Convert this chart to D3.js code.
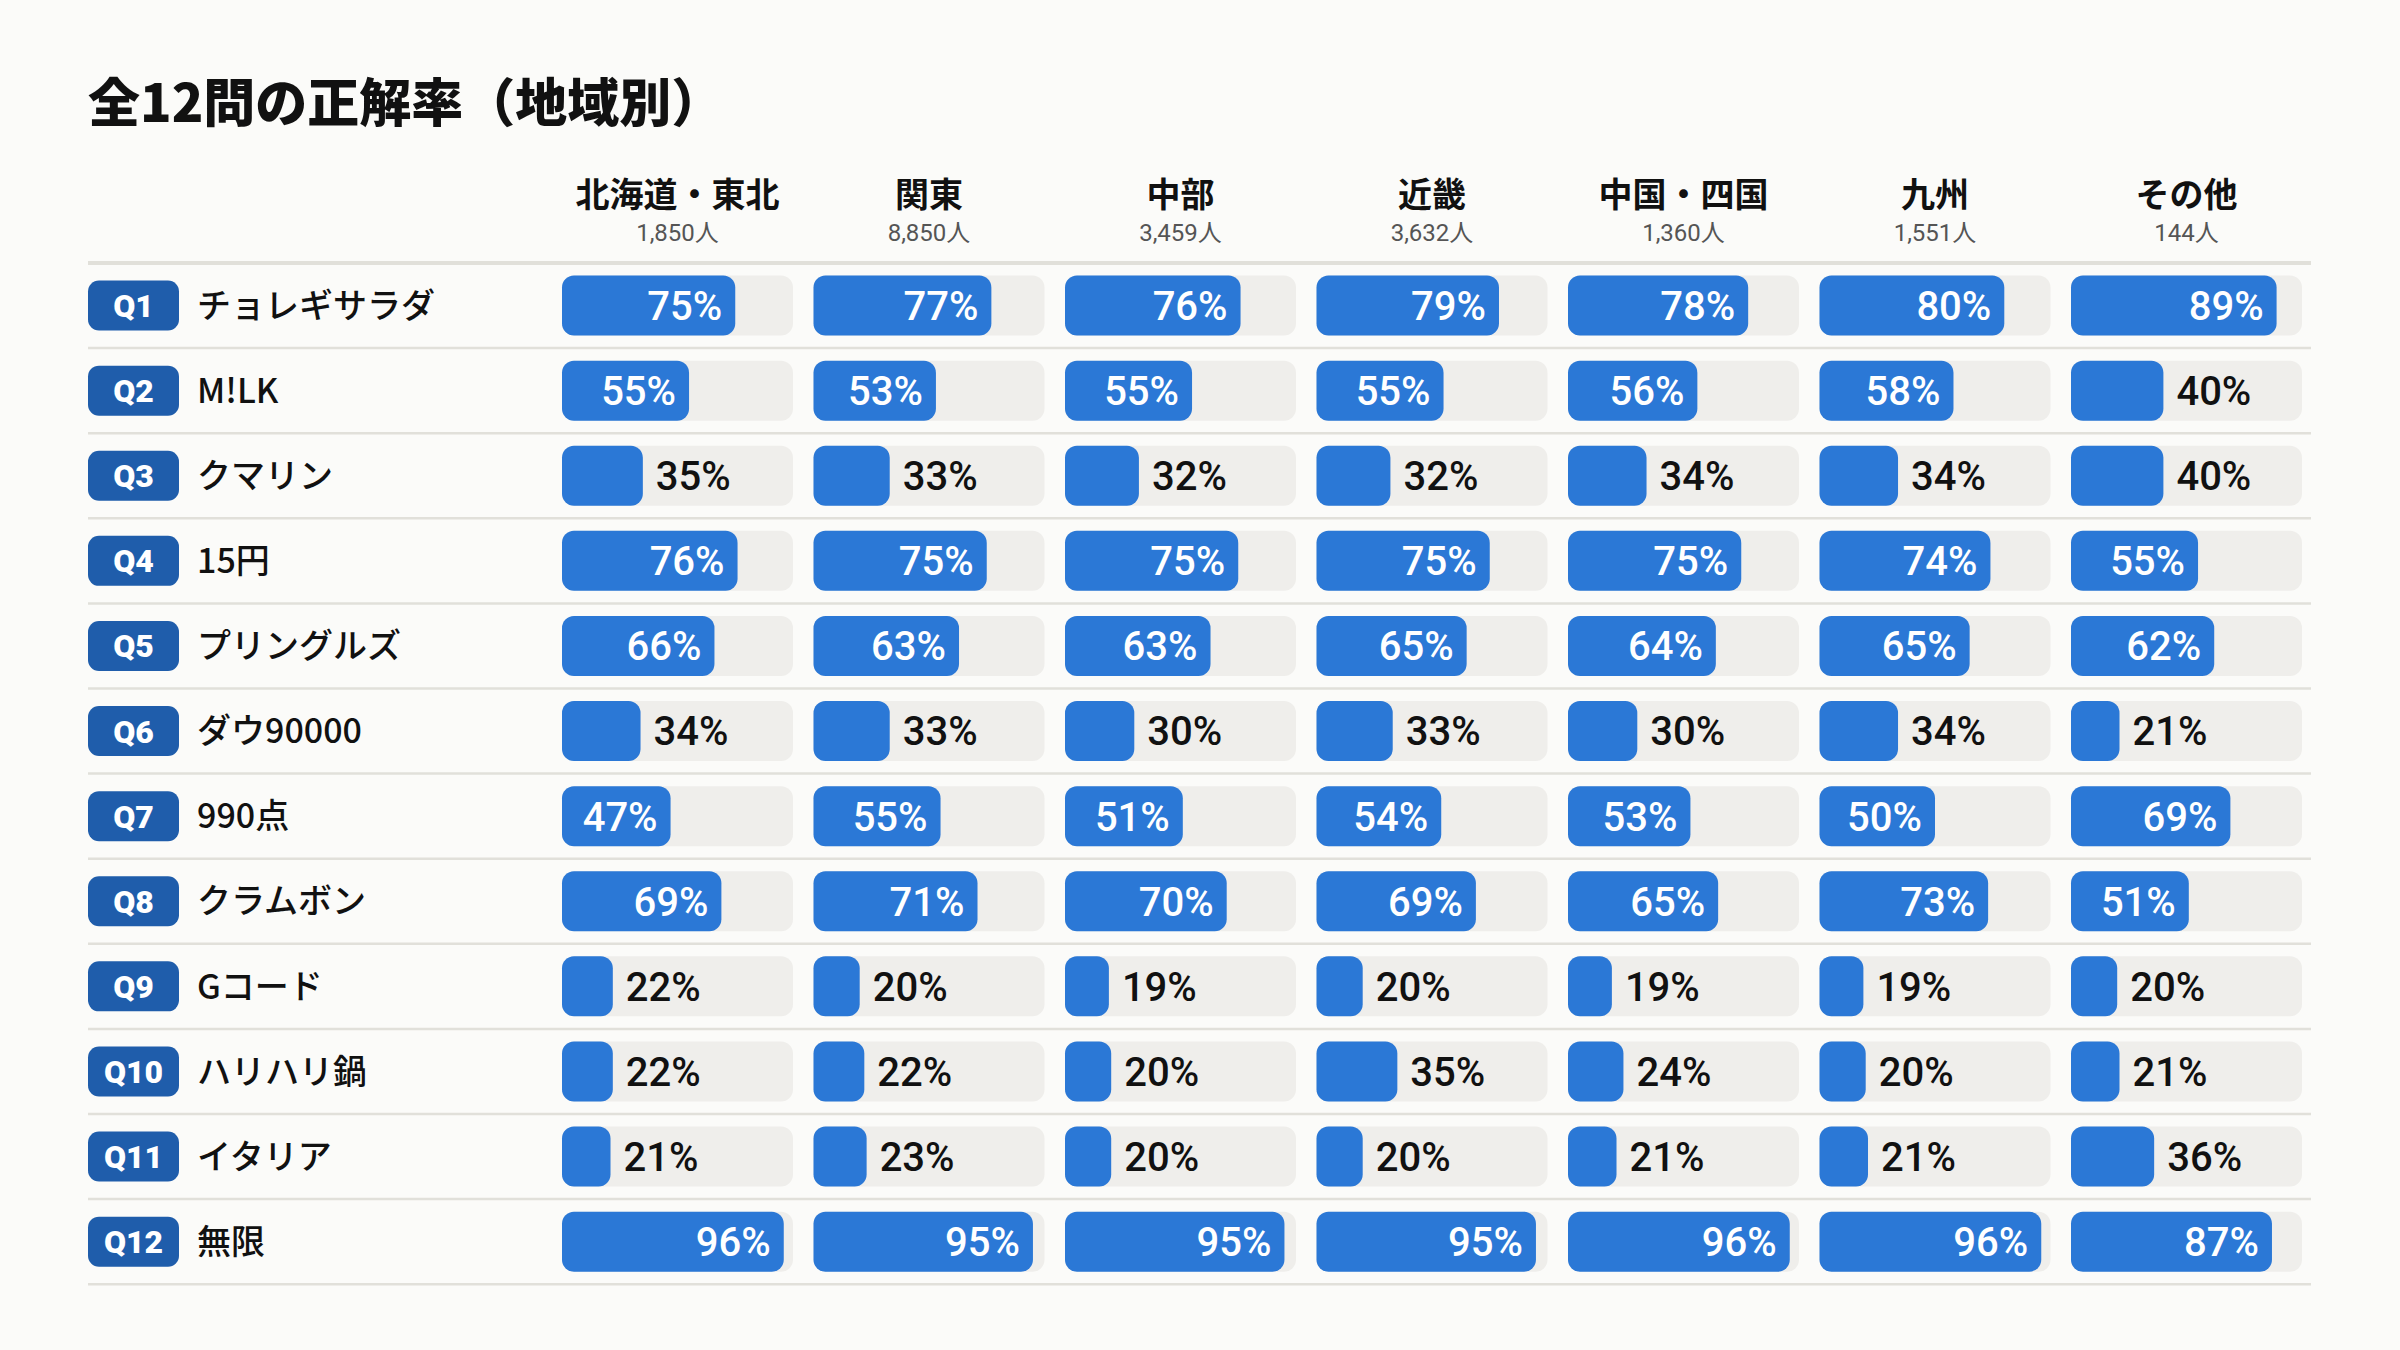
<!DOCTYPE html>
<html lang="ja">
<head>
<meta charset="utf-8">
<script src="https://cdn.jsdelivr.net/npm/d3@7"></script>
<style>
	html, body { margin: 0; padding: 0; background: #fbfbf9; }
	svg { display: block; font-family: Roboto, "Noto Sans CJK JP", sans-serif; }
</style>
</head>
<body>
<svg id="chart" width="2400" height="1350"></svg>
<script>
// regions (columns) and respondent counts
var regions = ['北海道・東北', '関東', '中部', '近畿', '中国・四国', '九州', 'その他'];
var counts = ['1,850人', '8,850人', '3,459人', '3,632人', '1,360人', '1,551人', '144人'];

// questions (rows)
var qIds = ['Q1', 'Q2', 'Q3', 'Q4', 'Q5', 'Q6', 'Q7', 'Q8', 'Q9', 'Q10', 'Q11', 'Q12'];
var qLabels = ['チョレギサラダ', 'M!LK', 'クマリン', '15円', 'プリングルズ', 'ダウ90000',
	'990点', 'クラムボン', 'Gコード', 'ハリハリ鍋', 'イタリア', '無限'];

// correct answer rate (%) per question, per region
var rates = [
	[75, 77, 76, 79, 78, 80, 89],
	[55, 53, 55, 55, 56, 58, 40],
	[35, 33, 32, 32, 34, 34, 40],
	[76, 75, 75, 75, 75, 74, 55],
	[66, 63, 63, 65, 64, 65, 62],
	[34, 33, 30, 33, 30, 34, 21],
	[47, 55, 51, 54, 53, 50, 69],
	[69, 71, 70, 69, 65, 73, 51],
	[22, 20, 19, 20, 19, 19, 20],
	[22, 22, 20, 35, 24, 20, 21],
	[21, 23, 20, 20, 21, 21, 36],
	[96, 95, 95, 95, 96, 96, 87]
];

drawChart();

function drawChart() {
	var svg = d3.select('#chart');
	var left = 88, right = 2311;
	var colStart = 562, colStep = 251.5, trackW = 231, trackH = 60;
	var rowTop = 263, rowH = 85.1;

	//column / row scales
	var x = d3.scaleBand()
		.domain(regions)
		.range([colStart, colStart + colStep * (regions.length - 1) + trackW])
		.paddingInner((colStep - trackW) / colStep)
		.paddingOuter(0);
	var y = d3.scaleBand()
		.domain(qIds)
		.range([rowTop, rowTop + rowH * qIds.length]);
	var w = d3.scaleLinear().domain([0, 100]).range([0, x.bandwidth()]);

	//title
	svg.append('text')
		.attr('x', left).attr('y', 122)
		.style('font-family', '"Noto Sans CJK JP", sans-serif')
		.style('font-size', '52px').style('font-weight', 900)
		.style('fill', '#111')
		.text('全12問の正解率（地域別）');

	//column headers
	var hdr = svg.append('g').attr('class', 'headers');
	regions.forEach(function(r, i) {
		var cx = x(r) + x.bandwidth() / 2;
		hdr.append('text')
			.attr('x', cx).attr('y', 207)
			.attr('text-anchor', 'middle')
			.style('font-family', '"Noto Sans CJK JP", sans-serif')
			.style('font-size', '34px').style('font-weight', 700)
			.style('fill', '#111')
			.text(r);
		hdr.append('text')
			.attr('x', cx).attr('y', 241)
			.attr('text-anchor', 'middle')
			.style('font-size', '24px')
			.style('fill', '#555')
			.text(counts[i]);
	});

	//header rule
	svg.append('line')
		.attr('x1', left).attr('x2', right)
		.attr('y1', rowTop).attr('y2', rowTop)
		.style('stroke', '#e1e0da').style('stroke-width', 4);

	//rows
	var rows = svg.selectAll('g.row')
		.data(qIds)
		.enter().append('g')
		.attr('class', 'row')
		.attr('transform', d => 'translate(0,' + y(d) + ')');

	rows.append('line')
		.attr('x1', left).attr('x2', right)
		.attr('y1', y.bandwidth()).attr('y2', y.bandwidth())
		.style('stroke', '#e1e0da').style('stroke-width', 2.5);

	var mid = y.bandwidth() / 2;

	//question badge
	rows.append('rect')
		.attr('x', left).attr('y', mid - 25)
		.attr('width', 91).attr('height', 50)
		.attr('rx', 11)
		.style('fill', '#1f5dab');
	rows.append('text')
		.attr('x', left + 45.5).attr('y', mid)
		.attr('dy', '0.36em')
		.attr('text-anchor', 'middle')
		.style('font-size', '32px').style('font-weight', 900)
		.style('fill', '#fff')
		.text(d => d);

	//question label
	rows.append('text')
		.attr('x', 197).attr('y', mid)
		.attr('dy', '0.36em')
		.style('font-family', '"Noto Sans CJK JP", sans-serif')
		.style('font-size', '34px').style('font-weight', 500)
		.style('fill', '#111')
		.text((d, i) => qLabels[i]);

	//cells
	var cells = rows.selectAll('g.cell')
		.data((d, i) => rates[i].map((v, j) => ({ region: regions[j], value: v })))
		.enter().append('g')
		.attr('class', 'cell')
		.attr('transform', d => 'translate(' + x(d.region) + ',' + (mid - trackH / 2) + ')');

	cells.append('rect')
		.attr('width', x.bandwidth()).attr('height', trackH)
		.attr('rx', 12)
		.style('fill', '#efeeeb');

	cells.append('rect')
		.attr('width', d => w(d.value)).attr('height', trackH)
		.attr('rx', 12)
		.style('fill', '#2b78d6');

	cells.append('text')
		.attr('x', d => d.value >= 45 ? w(d.value) - 13 : w(d.value) + 13)
		.attr('y', trackH / 2)
		.attr('dy', '0.36em')
		.attr('text-anchor', d => d.value >= 45 ? 'end' : 'start')
		.style('font-size', '40px').style('font-weight', 500)
		.style('fill', d => d.value >= 45 ? '#fff' : '#111')
		.text(d => d.value + '%');
}
</script>
</body>
</html>
